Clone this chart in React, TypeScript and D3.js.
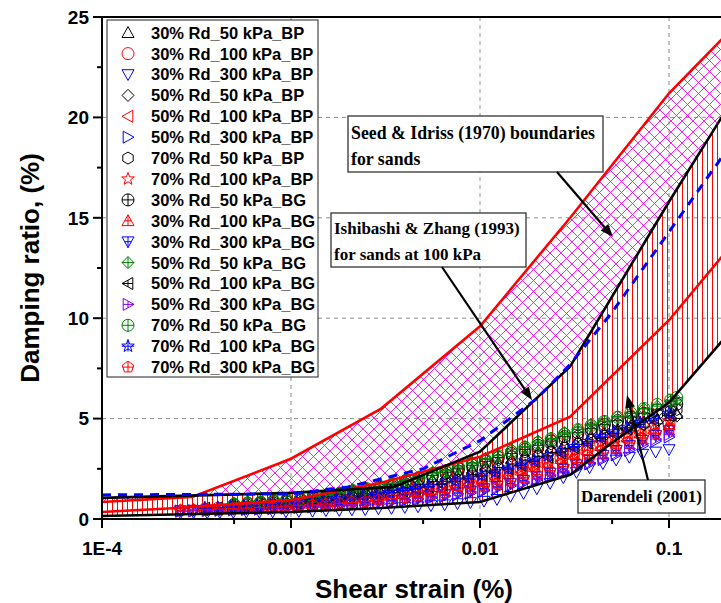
import React from 'react';
import * as d3 from 'd3';

const W = 721;
const H = 603;

// ---------- reference curves ----------
const seedUpperStrain = [1e-4, 3e-4, 1e-3, 3e-3, 1e-2, 3e-2, 0.1, 0.3];
const seedUpperDamping = [0.85, 1.1, 3.0, 5.5, 9.6, 15.0, 21.2, 25.8];
const seedLowerStrain = [1e-4, 2.5e-4, 1e-3, 3e-3, 1e-2, 3e-2, 0.1, 0.3];
const seedLowerDamping = [0.35, 0.55, 0.95, 1.8, 3.1, 5.1, 9.9, 15.3];
const darUpperStrain = [1e-4, 1e-3, 3.5e-3, 1e-2, 3e-2, 0.1, 0.3];
const darUpperDamping = [1.05, 1.3, 1.6, 3.35, 7.6, 15.8, 23.0];
const darLowerStrain = [1e-4, 1e-3, 3e-3, 1e-2, 3e-2, 5e-2, 0.1, 0.3];
const darLowerDamping = [0.15, 0.35, 0.55, 0.85, 2.2, 3.8, 5.8, 11.0];
const izStrain = [1e-4, 1e-3, 2e-3, 5e-3, 1e-2, 2e-2, 3e-2, 5e-2, 0.1, 0.2];
const izDamping = [1.2, 1.25, 1.6, 2.5, 3.9, 6.0, 7.7, 10.3, 14.3, 18.3];

// ---------- test data ----------
const strain50 = [0.0005, 0.00059, 0.00069, 0.00081, 0.00095, 0.00112, 0.00131, 0.00154, 0.00181, 0.00213, 0.0025, 0.00294, 0.00345, 0.00405, 0.00475, 0.0056, 0.0066, 0.0077, 0.0091, 0.0107, 0.0125, 0.0147, 0.0173, 0.0203, 0.0238, 0.028, 0.033, 0.0387, 0.0455, 0.0535, 0.0628, 0.0738, 0.0867, 0.102, 0.11];
const strain100 = [0.00035, 0.00041, 0.00048, 0.000565, 0.00066, 0.00078, 0.00091, 0.00107, 0.00126, 0.00148, 0.00174, 0.00204, 0.0024, 0.00282, 0.0033, 0.0039, 0.00455, 0.00535, 0.0063, 0.0074, 0.0087, 0.0102, 0.012, 0.0141, 0.0165, 0.0194, 0.0228, 0.0268, 0.0315, 0.037, 0.0435, 0.051, 0.06, 0.0705, 0.083, 0.1];
const strain300 = [0.00026, 0.000305, 0.00036, 0.00042, 0.000495, 0.00058, 0.00068, 0.0008, 0.00094, 0.0011, 0.0013, 0.00153, 0.0018, 0.0021, 0.00247, 0.0029, 0.0034, 0.004, 0.0047, 0.0055, 0.0065, 0.0076, 0.0089, 0.0105, 0.0123, 0.0145, 0.017, 0.02, 0.0235, 0.0276, 0.0324, 0.038, 0.0447, 0.0525, 0.0617, 0.0725, 0.085, 0.1];

const d30_50_BP = [0.62, 0.68, 0.71, 0.78, 0.84, 0.88, 0.95, 1.03, 1.12, 1.22, 1.33, 1.42, 1.55, 1.68, 1.82, 1.96, 2.12, 2.28, 2.45, 2.62, 2.8, 2.98, 3.17, 3.36, 3.55, 3.75, 3.95, 4.12, 4.3, 4.48, 4.66, 4.82, 4.98, 5.15, 5.25];
const d30_100_BP = [0.5, 0.53, 0.55, 0.57, 0.62, 0.65, 0.68, 0.75, 0.79, 0.84, 0.92, 0.97, 1.06, 1.11, 1.21, 1.28, 1.39, 1.47, 1.61, 1.71, 1.86, 1.97, 2.14, 2.28, 2.49, 2.65, 2.87, 3.05, 3.29, 3.48, 3.73, 3.92, 4.16, 4.34, 4.57, 4.76];
const d30_300_BP = [0.3, 0.32, 0.31, 0.33, 0.33, 0.34, 0.34, 0.36, 0.36, 0.38, 0.39, 0.42, 0.43, 0.46, 0.47, 0.51, 0.53, 0.58, 0.61, 0.67, 0.71, 0.77, 0.82, 0.89, 0.98, 1.13, 1.28, 1.51, 1.78, 2.06, 2.32, 2.56, 2.76, 2.94, 3.08, 3.23, 3.34, 3.46];
const d50_50_BP = [0.56, 0.6, 0.66, 0.7, 0.76, 0.82, 0.88, 0.95, 1.04, 1.13, 1.22, 1.32, 1.44, 1.56, 1.7, 1.84, 1.98, 2.14, 2.3, 2.47, 2.64, 2.82, 3.0, 3.2, 3.38, 3.58, 3.78, 3.96, 4.15, 4.32, 4.5, 4.68, 4.85, 5.02, 5.12];
const d50_100_BP = [0.47, 0.49, 0.52, 0.55, 0.57, 0.61, 0.65, 0.69, 0.75, 0.8, 0.85, 0.92, 0.98, 1.05, 1.13, 1.21, 1.3, 1.39, 1.5, 1.62, 1.73, 1.86, 2.0, 2.16, 2.33, 2.5, 2.68, 2.88, 3.08, 3.29, 3.5, 3.7, 3.9, 4.1, 4.28, 4.48];
const d50_300_BP = [0.4, 0.41, 0.43, 0.44, 0.46, 0.48, 0.5, 0.52, 0.54, 0.57, 0.6, 0.63, 0.67, 0.71, 0.75, 0.8, 0.85, 0.91, 0.97, 1.04, 1.12, 1.2, 1.29, 1.4, 1.51, 1.64, 1.79, 1.95, 2.13, 2.32, 2.52, 2.74, 2.96, 3.19, 3.42, 3.65, 3.88, 4.08];
const d70_50_BP = [0.66, 0.72, 0.76, 0.82, 0.88, 0.94, 1.01, 1.09, 1.18, 1.29, 1.4, 1.51, 1.64, 1.78, 1.92, 2.08, 2.24, 2.41, 2.58, 2.76, 2.95, 3.14, 3.34, 3.54, 3.74, 3.95, 4.15, 4.34, 4.54, 4.72, 4.9, 5.06, 5.22, 5.38, 5.45];
const d70_100_BP = [0.52, 0.54, 0.56, 0.6, 0.62, 0.67, 0.71, 0.75, 0.81, 0.86, 0.93, 1.0, 1.07, 1.15, 1.22, 1.32, 1.4, 1.51, 1.63, 1.76, 1.88, 2.02, 2.17, 2.35, 2.52, 2.72, 2.91, 3.13, 3.34, 3.57, 3.79, 4.02, 4.23, 4.45, 4.65, 4.88];
const d30_50_BG = [0.7, 0.76, 0.8, 0.87, 0.92, 0.98, 1.06, 1.14, 1.24, 1.35, 1.46, 1.58, 1.71, 1.86, 2.0, 2.16, 2.33, 2.5, 2.68, 2.87, 3.06, 3.26, 3.46, 3.67, 3.88, 4.1, 4.3, 4.5, 4.7, 4.9, 5.08, 5.26, 5.44, 5.62, 5.72];
const d30_100_BG = [0.49, 0.51, 0.54, 0.57, 0.6, 0.63, 0.68, 0.72, 0.78, 0.83, 0.89, 0.96, 1.03, 1.1, 1.17, 1.26, 1.35, 1.45, 1.57, 1.69, 1.81, 1.94, 2.09, 2.25, 2.43, 2.61, 2.8, 3.0, 3.21, 3.43, 3.65, 3.86, 4.07, 4.27, 4.47, 4.68];
const d30_300_BG = [0.42, 0.44, 0.45, 0.47, 0.49, 0.51, 0.53, 0.56, 0.58, 0.61, 0.65, 0.68, 0.72, 0.77, 0.81, 0.87, 0.92, 0.99, 1.05, 1.13, 1.21, 1.3, 1.4, 1.51, 1.63, 1.77, 1.93, 2.1, 2.29, 2.49, 2.7, 2.93, 3.17, 3.42, 3.66, 3.92, 4.16, 4.4];
const d50_50_BG = [0.8, 0.86, 0.88, 0.95, 0.99, 1.06, 1.11, 1.22, 1.31, 1.46, 1.55, 1.7, 1.79, 1.97, 2.1, 2.32, 2.44, 2.65, 2.8, 3.02, 3.18, 3.45, 3.6, 3.88, 4.02, 4.3, 4.47, 4.7, 4.88, 5.1, 5.25, 5.48, 5.62, 5.85, 5.92];
const d50_100_BG = [0.54, 0.56, 0.6, 0.62, 0.66, 0.7, 0.75, 0.8, 0.85, 0.92, 0.98, 1.06, 1.13, 1.21, 1.3, 1.39, 1.49, 1.6, 1.73, 1.86, 2.0, 2.14, 2.3, 2.48, 2.68, 2.87, 3.09, 3.3, 3.54, 3.78, 4.02, 4.25, 4.48, 4.71, 4.92, 5.16];
const d50_300_BG = [0.38, 0.4, 0.42, 0.43, 0.45, 0.47, 0.49, 0.52, 0.55, 0.58, 0.61, 0.65, 0.69, 0.73, 0.78, 0.83, 0.89, 0.95, 1.02, 1.09, 1.17, 1.26, 1.35, 1.46, 1.57, 1.7, 1.85, 2.01, 2.19, 2.38, 2.58, 2.8, 3.03, 3.27, 3.51, 3.75, 3.98, 4.2];
const d70_50_BG = [0.74, 0.8, 0.85, 0.92, 0.97, 1.02, 1.1, 1.17, 1.28, 1.4, 1.52, 1.63, 1.76, 1.92, 2.06, 2.25, 2.4, 2.58, 2.78, 2.96, 3.15, 3.36, 3.58, 3.8, 4.0, 4.24, 4.45, 4.66, 4.86, 5.07, 5.28, 5.5, 5.7, 5.92, 6.05];
const d70_100_BG = [0.55, 0.57, 0.61, 0.64, 0.67, 0.72, 0.76, 0.81, 0.87, 0.94, 1.0, 1.08, 1.16, 1.23, 1.32, 1.42, 1.52, 1.63, 1.76, 1.89, 2.04, 2.18, 2.34, 2.53, 2.73, 2.93, 3.15, 3.37, 3.61, 3.85, 4.09, 4.33, 4.56, 4.8, 5.02, 5.26];
const d70_300_BG = [0.44, 0.46, 0.48, 0.5, 0.52, 0.54, 0.57, 0.6, 0.63, 0.66, 0.7, 0.74, 0.78, 0.83, 0.88, 0.94, 1.0, 1.07, 1.14, 1.22, 1.31, 1.41, 1.51, 1.62, 1.74, 1.88, 2.04, 2.21, 2.4, 2.6, 2.81, 3.04, 3.28, 3.53, 3.78, 4.03, 4.27, 4.5];

const seriesLabels = [
  '30% Rd_50 kPa_BP', '30% Rd_100 kPa_BP', '30% Rd_300 kPa_BP',
  '50% Rd_50 kPa_BP', '50% Rd_100 kPa_BP', '50% Rd_300 kPa_BP',
  '70% Rd_50 kPa_BP', '70% Rd_100 kPa_BP',
  '30% Rd_50 kPa_BG', '30% Rd_100 kPa_BG', '30% Rd_300 kPa_BG',
  '50% Rd_50 kPa_BG', '50% Rd_100 kPa_BG', '50% Rd_300 kPa_BG',
  '70% Rd_50 kPa_BG', '70% Rd_100 kPa_BG', '70% Rd_300 kPa_BG',
];
const seriesStrain = [
  strain50, strain100, strain300, strain50, strain100, strain300, strain50, strain100,
  strain50, strain100, strain300, strain50, strain100, strain300, strain50, strain100, strain300,
];
const seriesDamping = [
  d30_50_BP, d30_100_BP, d30_300_BP, d50_50_BP, d50_100_BP, d50_300_BP, d70_50_BP, d70_100_BP,
  d30_50_BG, d30_100_BG, d30_300_BG, d50_50_BG, d50_100_BG, d50_300_BG, d70_50_BG, d70_100_BG, d70_300_BG,
];
const seriesColors = [
  '#000000', '#ff0000', '#0000ff', '#000000', '#ff0000', '#0000ff', '#000000', '#ff0000',
  '#000000', '#ff0000', '#0000ff', '#008000', '#000000', '#8000ff', '#008000', '#0000ff', '#ff0000',
];
const seriesShapes = [
  'triUp', 'circle', 'triDown', 'diamond', 'triLeft', 'triRight', 'hexagon', 'star',
  'circle', 'triUp', 'triDown', 'diamond', 'triLeft', 'triRight', 'circle', 'star', 'pentagon',
];
const seriesPlus = [
  false, false, false, false, false, false, false, false,
  true, true, true, true, true, true, true, true, true,
];

const xTickValues = [1e-4, 1e-3, 1e-2, 1e-1];
const xTickLabels = ['1E-4', '0.001', '0.01', '0.1'];
const xMinorTicks = [5e-4, 5e-3, 5e-2];
const yTickValues = [0, 5, 10, 15, 20, 25];
const yMinorTicks = [2.5, 7.5, 12.5, 17.5, 22.5];

// ---------- scales ----------
const xScale = d3.scaleLog().domain([1e-4, 0.1]).range([102, 669]);
const yScale = d3.scaleLinear().domain([0, 25]).range([519, 17]);
const X0 = 102, X1 = 721, Y0 = 519, Y1 = 17;

const lineGen = d3.line();
function pts(s: number[], d: number[]): [number, number][] {
  return s.map((v, i) => [xScale(v), yScale(d[i])] as [number, number]);
}
function band(sA: number[], dA: number[], sB: number[], dB: number[]) {
  const a = pts(sA, dA);
  const b = pts(sB, dB).reverse();
  return (lineGen([...a, ...b]) || '') + 'Z';
}

function poly(p: number[][]) {
  return 'M' + p.map(q => q[0].toFixed(2) + ',' + q[1].toFixed(2)).join('L') + 'Z';
}
function regular(n: number, r: number, start: number) {
  const p: number[][] = [];
  for (let k = 0; k < n; k++) {
    const a = (start + (360 / n) * k) * Math.PI / 180;
    p.push([r * Math.cos(a), r * Math.sin(a)]);
  }
  return p;
}
function shapePath(shape: string, r: number) {
  switch (shape) {
    case 'triUp': return poly([[0, -r], [r, r * 0.8], [-r, r * 0.8]]);
    case 'triDown': return poly([[0, r], [r, -r * 0.8], [-r, -r * 0.8]]);
    case 'triLeft': return poly([[-r, 0], [r * 0.8, -r], [r * 0.8, r]]);
    case 'triRight': return poly([[r, 0], [-r * 0.8, -r], [-r * 0.8, r]]);
    case 'diamond': return poly([[0, -r], [r, 0], [0, r], [-r, 0]]);
    case 'hexagon': return poly(regular(6, r, -90));
    case 'pentagon': return poly(regular(5, r, -90));
    case 'star': {
      const p: number[][] = [];
      for (let k = 0; k < 10; k++) {
        const rr = k % 2 === 0 ? r * 1.1 : r * 0.45;
        const a = (-90 + 36 * k) * Math.PI / 180;
        p.push([rr * Math.cos(a), rr * Math.sin(a)]);
      }
      return poly(p);
    }
    default:
      return `M${-r},0A${r},${r} 0 1,0 ${r},0A${r},${r} 0 1,0 ${-r},0Z`;
  }
}
function plusPath(shape: string, r: number) {
  switch (shape) {
    case 'triUp': return `M0,${-r}V${r * 0.8}M${-r * 0.56},0H${r * 0.56}`;
    case 'triDown': return `M0,${r}V${-r * 0.8}M${-r * 0.56},0H${r * 0.56}`;
    case 'triLeft': return `M${-r},0H${r * 0.8}M0,${-r * 0.56}V${r * 0.56}`;
    case 'triRight': return `M${r},0H${-r * 0.8}M0,${-r * 0.56}V${r * 0.56}`;
    case 'pentagon': return `M0,${-r}V${r * 0.81}M${-r * 0.95},0H${r * 0.95}`;
    case 'star': return `M0,${-r * 1.1}V${r * 0.9}M${-r * 1.05},0H${r * 1.05}`;
    default: return `M0,${-r}V${r}M${-r},0H${r}`;
  }
}

function Arrow({ x1, y1, x2, y2 }: { x1: number; y1: number; x2: number; y2: number }) {
  const dx = x2 - x1, dy = y2 - y1;
  const L = Math.hypot(dx, dy);
  const ux = dx / L, uy = dy / L;
  const hl = 13, hw = 5;
  const bx = x2 - ux * hl, by = y2 - uy * hl;
  const head = poly([[x2, y2], [bx - uy * hw, by + ux * hw], [bx + uy * hw, by - ux * hw]]);
  return (
    <g>
      <line x1={x1} y1={y1} x2={bx + ux * 2} y2={by + uy * 2} stroke="#000" strokeWidth={2.2} />
      <path d={head} fill="#000" />
    </g>
  );
}

const SANS = "'Liberation Sans', Arial, Helvetica, sans-serif";
const SERIF = "'Liberation Serif', 'Times New Roman', serif";

export default function App() {
  const R = 6;
  return (
    <svg width={W} height={H} style={{ position: 'absolute', left: 0, top: 0, background: '#fff' }}>
      <defs>
        <clipPath id="plotClip">
          <rect x={X0} y={Y1} width={X1 - X0 + 10} height={Y0 - Y1} />
        </clipPath>
        <pattern id="crossHatch" patternUnits="userSpaceOnUse" width={11} height={11}>
          <path d="M-1,-1L12,12M-1,12L12,-1" stroke="#ff00ff" strokeWidth={0.9} />
        </pattern>
        <pattern id="vertHatch" patternUnits="userSpaceOnUse" width={5} height={10}>
          <path d="M2.5,0V10" stroke="#ff0000" strokeWidth={1} />
        </pattern>
      </defs>
      <rect x={0} y={0} width={W} height={H} fill="#fff" />

      {/* grid */}
      <g stroke="#8c8c8c" strokeWidth={1} strokeDasharray="4,4">
        {xTickValues.slice(1).map(v => (
          <line key={'gx' + v} x1={xScale(v)} x2={xScale(v)} y1={Y1} y2={Y0} />
        ))}
        {yTickValues.slice(1, -1).map(v => (
          <line key={'gy' + v} x1={X0} x2={X1} y1={yScale(v)} y2={yScale(v)} />
        ))}
      </g>

      <g clipPath="url(#plotClip)">
        <path d={band(seedUpperStrain, seedUpperDamping, darUpperStrain, darUpperDamping)} fill="url(#crossHatch)" stroke="none" />
        <path d={band(darUpperStrain, darUpperDamping, darLowerStrain, darLowerDamping)} fill="url(#vertHatch)" stroke="none" />
      </g>

      {/* test data */}
      <g fill="none" strokeWidth={1}>
        {seriesLabels.map((lab, si) => (
          <g key={lab} stroke={seriesColors[si]}>
            {seriesStrain[si].map((s, i) => {
              const cx = xScale(s), cy = yScale(seriesDamping[si][i]);
              return (
                <g key={i} transform={`translate(${cx.toFixed(2)},${cy.toFixed(2)})`}>
                  <path d={shapePath(seriesShapes[si], R)} />
                  {seriesPlus[si] && <path d={plusPath(seriesShapes[si], R)} />}
                </g>
              );
            })}
          </g>
        ))}
      </g>

      {/* reference curves */}
      <g clipPath="url(#plotClip)" fill="none">
        <path d={lineGen(pts(seedUpperStrain, seedUpperDamping)) || ''} stroke="#ff0000" strokeWidth={2.6} />
        <path d={lineGen(pts(seedLowerStrain, seedLowerDamping)) || ''} stroke="#ff0000" strokeWidth={2.6} />
        <path d={lineGen(pts(darUpperStrain, darUpperDamping)) || ''} stroke="#000" strokeWidth={2.6} />
        <path d={lineGen(pts(darLowerStrain, darLowerDamping)) || ''} stroke="#000" strokeWidth={2.6} />
        <path d={lineGen(pts(izStrain, izDamping)) || ''} stroke="#0000ff" strokeWidth={3} strokeDasharray="9,7" />
      </g>

      {/* annotations */}
      <g fontFamily={SERIF} fontWeight="bold" fill="#000">
        <rect x={348} y={116} width={255} height={56} fill="#fff" stroke="#333" strokeWidth={1.3} />
        <text x={351} y={139} fontSize={17.8}>Seed &amp; Idriss (1970) boundaries</text>
        <text x={351} y={165} fontSize={17.8}>for sands</text>
        <Arrow x1={557} y1={172} x2={613} y2={237} />

        <rect x={331} y={213} width={195} height={54} fill="#fff" stroke="#333" strokeWidth={1.3} />
        <text x={334} y={234} fontSize={17}>Ishibashi &amp; Zhang (1993)</text>
        <text x={334} y={260} fontSize={17}>for sands at 100 kPa</text>
        <Arrow x1={442} y1={267} x2={532} y2={400} />

        <rect x={578} y={480} width={127} height={33} fill="#fff" stroke="#333" strokeWidth={1.3} />
        <text x={641.5} y={502} fontSize={17} textAnchor="middle">Darendeli (2001)</text>
        <Arrow x1={648} y1={480} x2={627} y2={395} />
      </g>

      {/* legend */}
      <g>
        <rect x={107} y={20} width={211} height={357} fill="#fff" stroke="#222" strokeWidth={1} />
        {seriesLabels.map((lab, si) => {
          const cy = 32.7 + si * 20.9;
          return (
            <g key={'lg' + lab}>
              <g transform={`translate(128,${cy})`} fill="none" stroke={seriesColors[si]} strokeWidth={1}>
                <path d={shapePath(seriesShapes[si], R)} />
                {seriesPlus[si] && <path d={plusPath(seriesShapes[si], R)} />}
              </g>
              <text x={151} y={cy} dy="0.36em" fontFamily={SANS} fontWeight="bold" fontSize={16.5} fill="#000">{lab}</text>
            </g>
          );
        })}
      </g>

      {/* axes */}
      <g stroke="#000" strokeWidth={2} fill="none">
        <line x1={X0} y1={Y1} x2={X0} y2={Y0 + 1} />
        <line x1={X0 - 1} y1={Y0} x2={X1} y2={Y0} />
        <line x1={X0 - 1} y1={Y1} x2={X1} y2={Y1} />
        {yTickValues.map(v => (
          <line key={'yt' + v} x1={X0 - 9} x2={X0} y1={yScale(v)} y2={yScale(v)} />
        ))}
        {yMinorTicks.map(v => (
          <line key={'ym' + v} x1={X0 - 5} x2={X0} y1={yScale(v)} y2={yScale(v)} />
        ))}
        {xTickValues.map(v => (
          <line key={'xt' + v} x1={xScale(v)} x2={xScale(v)} y1={Y0} y2={Y0 + 9} />
        ))}
        {xMinorTicks.map(v => (
          <line key={'xm' + v} x1={xScale(v)} x2={xScale(v)} y1={Y0} y2={Y0 + 5} />
        ))}
      </g>
      <g fontFamily={SANS} fontWeight="bold" fontSize={19} fill="#000">
        {yTickValues.map(v => (
          <text key={'yl' + v} x={X0 - 13} y={yScale(v)} dy="0.36em" textAnchor="end">{v}</text>
        ))}
        {xTickValues.map((v, i) => (
          <text key={'xl' + v} x={xScale(v)} y={Y0 + 36} textAnchor="middle">{xTickLabels[i]}</text>
        ))}
      </g>
      <text x={414} y={598} textAnchor="middle" fontFamily={SANS} fontWeight="bold" fontSize={26}>Shear strain (%)</text>
      <text transform="translate(39,268) rotate(-90)" textAnchor="middle" fontFamily={SANS} fontWeight="bold" fontSize={26}>Damping ratio, (%)</text>
    </svg>
  );
}
